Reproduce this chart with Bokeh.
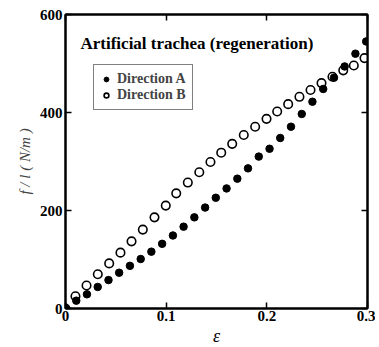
from bokeh.plotting import figure
from bokeh.models import Range1d, LinearAxis, FixedTicker, Label, Title
from bokeh.embed import file_html
from bokeh.resources import INLINE

# Direction A (filled circles)
strain_a = [0, 0.0107, 0.0213, 0.032, 0.0427, 0.0533, 0.064, 0.0747, 0.0853, 0.096,
            0.1067, 0.1173, 0.128, 0.1387, 0.1493, 0.16, 0.1707, 0.1813, 0.192, 0.2027,
            0.2133, 0.224, 0.2347, 0.2453, 0.256, 0.2667, 0.2773, 0.288, 0.2987]
force_a = [0, 16, 29, 44, 58, 73, 87, 101, 116, 132,
           149, 167, 186, 206, 226, 245, 265, 286, 310, 326,
           348, 371, 397, 422, 448, 471, 494, 520, 545]

# Direction B (open circles)
strain_b = [0, 0.0099, 0.0209, 0.0321, 0.0434, 0.0546, 0.0656, 0.0768, 0.0884, 0.0996,
            0.1100, 0.1215, 0.1329, 0.1440, 0.1547, 0.1656, 0.1771, 0.1884, 0.1997,
            0.2103, 0.2212, 0.2324, 0.2434, 0.2543, 0.2652, 0.2759, 0.2864, 0.2970]
force_b = [0, 25, 47, 70, 92, 114, 137, 161, 186, 210,
           235, 257, 278, 299, 318, 336, 354, 371, 387,
           402, 417, 432, 446, 460, 473, 486, 496, 511]

x_ticks = [0, 0.1, 0.2, 0.3]
x_tick_labels = {0: "0", 0.1: "0.1", 0.2: "0.2", 0.3: "0.3"}
y_ticks = [0, 200, 400, 600]

title_text = "Artificial trachea (regeneration)"
x_title = "ε"
y_title = "f / l ( N/m )"
SERIF = "'Liberation Serif'"

p = figure(width=375, height=347, x_range=Range1d(0, 0.3), y_range=Range1d(0, 600),
           output_backend="svg", toolbar_location=None,
           min_border_left=65, min_border_right=8, min_border_top=14, min_border_bottom=39)
p.xgrid.visible = False
p.ygrid.visible = False
p.outline_line_color = "black"
p.outline_line_width = 2
p.outline_line_alpha = 1
p.background_fill_color = "white"
p.border_fill_color = "white"

def style_axis(ax, show_labels):
    ax.axis_line_width = 2
    ax.axis_line_color = "black"
    ax.major_tick_in = 6
    ax.major_tick_out = 0
    ax.major_tick_line_width = 1.5
    ax.minor_tick_line_color = None
    ax.major_label_text_font = SERIF
    ax.major_label_text_font_style = "bold"
    ax.major_label_text_color = "black"
    ax.major_label_text_font_size = "15px"
    if show_labels:
        ax.major_label_standoff = 3
    else:
        ax.major_label_standoff = 0
        ax.major_label_text_color = None

xa = p.xaxis[0]
xa.ticker = FixedTicker(ticks=x_ticks)
xa.major_label_overrides = x_tick_labels
style_axis(xa, True)
xa.major_label_standoff = 2

ya = p.yaxis[0]
ya.ticker = FixedTicker(ticks=y_ticks)
style_axis(ya, True)
ya.axis_label = y_title
ya.axis_label_text_font = SERIF
ya.axis_label_text_font_style = "italic"
ya.axis_label_text_font_size = "15px"
ya.axis_label_standoff = 4

top = LinearAxis(ticker=FixedTicker(ticks=x_ticks),
                 major_label_overrides={t: "" for t in x_ticks})
style_axis(top, False)
p.add_layout(top, "above")
right = LinearAxis(ticker=FixedTicker(ticks=y_ticks),
                   major_label_overrides={t: "" for t in y_ticks})
style_axis(right, False)
p.add_layout(right, "right")

# x-axis title as a panel below the axis
p.add_layout(Title(text=x_title, align="center", text_font=SERIF,
                   text_font_style="italic", text_font_size="18px",
                   text_color="black", standoff=0, offset=0), "below")

p.scatter(strain_b, force_b, size=8.5, marker="circle", fill_color="white",
          line_color="black", line_width=1.6, legend_label="Direction B")
p.scatter(strain_a, force_a, size=7.5, marker="circle", fill_color="black",
          line_color="black", legend_label="Direction A")

p.add_layout(Label(x=0.0149, y=541, text=title_text, text_font=SERIF,
                   text_font_style="bold", text_font_size="17px",
                   text_baseline="alphabetic", text_color="black"))

lg = p.legend[0]
lg.items = list(reversed(lg.items))
lg.location = (28, 198)
lg.border_line_color = "black"
lg.border_line_width = 1.5
lg.background_fill_color = "white"
lg.label_text_font = SERIF
lg.label_text_font_style = "bold"
lg.label_text_font_size = "14px"
lg.padding = 6
lg.spacing = 0
lg.glyph_width = 12
lg.glyph_height = 14
lg.label_height = 14
lg.label_standoff = 5
lg.margin = 0

open("out.html", "w").write(file_html(p, INLINE))
